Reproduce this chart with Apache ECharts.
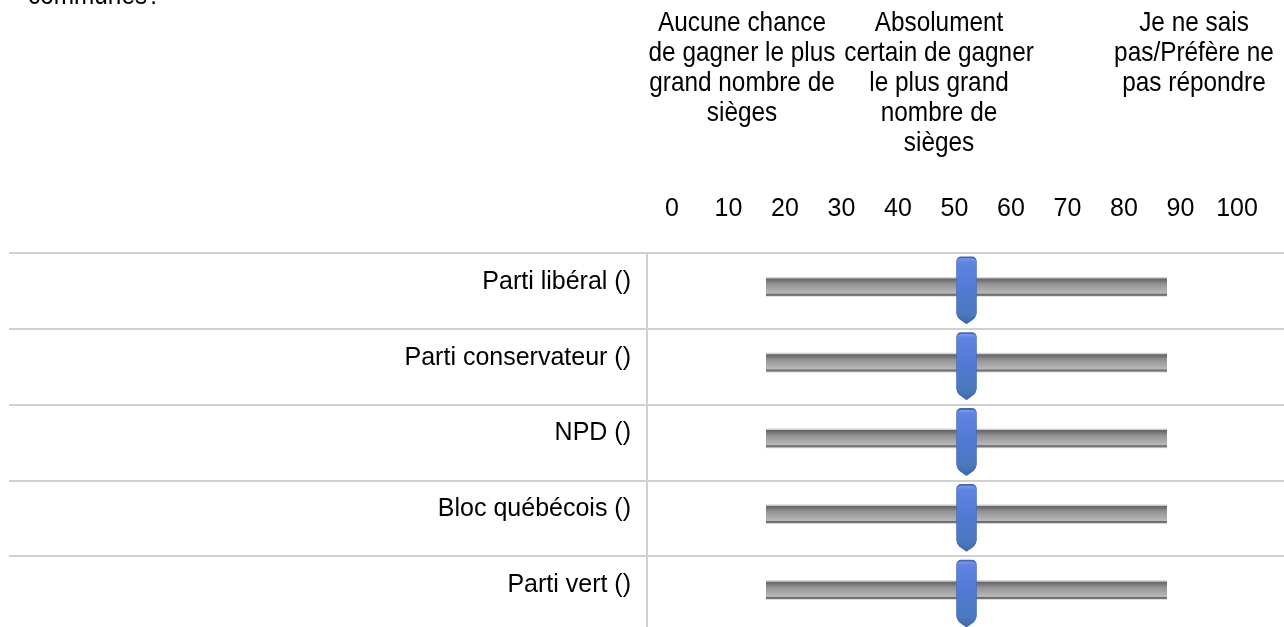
<!DOCTYPE html>
<html>
<head>
<meta charset="utf-8">
<script src="https://cdn.jsdelivr.net/npm/echarts@6/dist/echarts.min.js"></script>
<style>
html, body { margin: 0; padding: 0; background: #fff; }
#slider-chart { width: 1284px; height: 627px; }
</style>
</head>
<body>
<div id="slider-chart"></div>
<script>
// parties (rows) and slider positions
const parties = ['Parti libéral ()', 'Parti conservateur ()', 'NPD ()', 'Bloc québécois ()', 'Parti vert ()']
const sliderValues = [50, 50, 50, 50, 50]
// scale shown in the header
const scaleMin = 0
const scaleMax = 100
const scaleStep = 10
// column headers of the question
const headerLeft = ['Aucune chance', 'de gagner le plus', 'grand nombre de', 'sièges']
const headerMiddle = ['Absolument', 'certain de gagner', 'le plus grand', 'nombre de', 'sièges']
const headerRight = ['Je ne sais', 'pas/Préfère ne', 'pas répondre']

const FONT = '"Liberation Sans", Arial, sans-serif'
const LINE = '#d0d0d0'

let dom = document.getElementById('slider-chart')
let chart = echarts.init(dom)

const trackColor = new echarts.graphic.LinearGradient(0, 0, 0, 1, [
    { offset: 0, color: '#e4e4e4' },
    { offset: 0.06, color: '#c8c8c8' },
    { offset: 0.1, color: '#666666' },
    { offset: 0.2, color: '#767676' },
    { offset: 0.35, color: '#929292' },
    { offset: 0.7, color: '#afafaf' },
    { offset: 0.82, color: '#b8b8b8' },
    { offset: 0.86, color: '#6a6a6a' },
    { offset: 0.93, color: '#7a7a7a' },
    { offset: 0.96, color: '#d6d6d6' },
    { offset: 1, color: '#efefef' }
])
const handleColor = new echarts.graphic.LinearGradient(0, 0, 0, 1, [
    { offset: 0, color: '#8aa6f2' },
    { offset: 0.08, color: '#5f84e2' },
    { offset: 0.5, color: '#5179d2' },
    { offset: 0.85, color: '#4a79bd' },
    { offset: 1, color: '#3a6aa2' }
])
// pin shaped handle: rounded top, pointed bottom
const handlePath = 'path://M5,0 L15,0 Q20,0 20,5 L20,54 Q20,58 17,61 L10,66 L3,61 Q0,58 0,54 L0,5 Q0,0 5,0 Z'

// the screenshot's text is a bit taller than it is wide, so squeeze it
function headerText(lines, x) {
    return {
        type: 'text',
        x: x,
        y: 8,
        scaleX: 0.87,
        style: {
            text: lines.join('\n'),
            align: 'center',
            verticalAlign: 'top',
            lineHeight: 30,
            fill: '#000',
            font: '28px ' + FONT
        }
    }
}

let config = {
    animation: false,
    backgroundColor: '#fff',
    graphic: [
        // tail of the question, cut by the top edge
        { type: 'text', x: 28, y: 10, scaleX: 0.87, style: { text: 'communes?', verticalAlign: 'bottom', fill: '#000', font: '28px ' + FONT } },
        headerText(headerLeft, 742),
        headerText(headerMiddle, 939),
        headerText(headerRight, 1194)
    ],
    grid: [
        // rows with labels and separators
        { left: 9, right: 0, top: 253, height: 379, outerBoundsMode: 'none' },
        // slider tracks
        { left: 766, width: 401, top: 249, height: 379, outerBoundsMode: 'none' },
        // header scale
        { left: 672, width: 565, top: 230, height: 1, outerBoundsMode: 'none' }
    ],
    xAxis: [
        { gridIndex: 0, type: 'value', show: false },
        { gridIndex: 1, type: 'value', min: scaleMin, max: scaleMax, show: false },
        {
            gridIndex: 2, type: 'value', position: 'top',
            min: scaleMin, max: scaleMax, interval: scaleStep,
            axisLine: { show: false }, axisTick: { show: false }, splitLine: { show: false },
            axisLabel: { margin: 8, color: '#000', fontSize: 25, fontFamily: FONT }
        }
    ],
    yAxis: [
        {
            gridIndex: 0, type: 'category', inverse: true, data: parties,
            offset: -638,
            axisLine: { show: true, lineStyle: { color: LINE, width: 2 } },
            axisTick: { show: false },
            axisLabel: {
                margin: 16, color: '#000', fontSize: 25, fontFamily: FONT,
                verticalAlign: 'bottom', lineHeight: 18
            },
            splitLine: { show: true, lineStyle: { color: LINE, width: 2 } }
        },
        { gridIndex: 1, type: 'category', inverse: true, data: parties, show: false },
        { gridIndex: 2, type: 'value', show: false }
    ],
    series: [
        {
            name: 'piste',
            type: 'bar',
            xAxisIndex: 1,
            yAxisIndex: 1,
            barWidth: 20,
            data: sliderValues,
            itemStyle: { color: trackColor },
            showBackground: true,
            backgroundStyle: { color: trackColor, opacity: 1 },
            silent: true
        },
        {
            name: 'curseur',
            type: 'scatter',
            xAxisIndex: 1,
            yAxisIndex: 1,
            data: sliderValues,
            symbol: handlePath,
            symbolSize: [20, 66],
            symbolOffset: [0, 3.5],
            itemStyle: { color: handleColor, borderColor: '#4565b8', borderWidth: 1, opacity: 1 },
            z: 5
        }
    ]
}
config && chart.setOption(config)
window.addEventListener('resize', () => chart.resize())
</script>
</body>
</html>
